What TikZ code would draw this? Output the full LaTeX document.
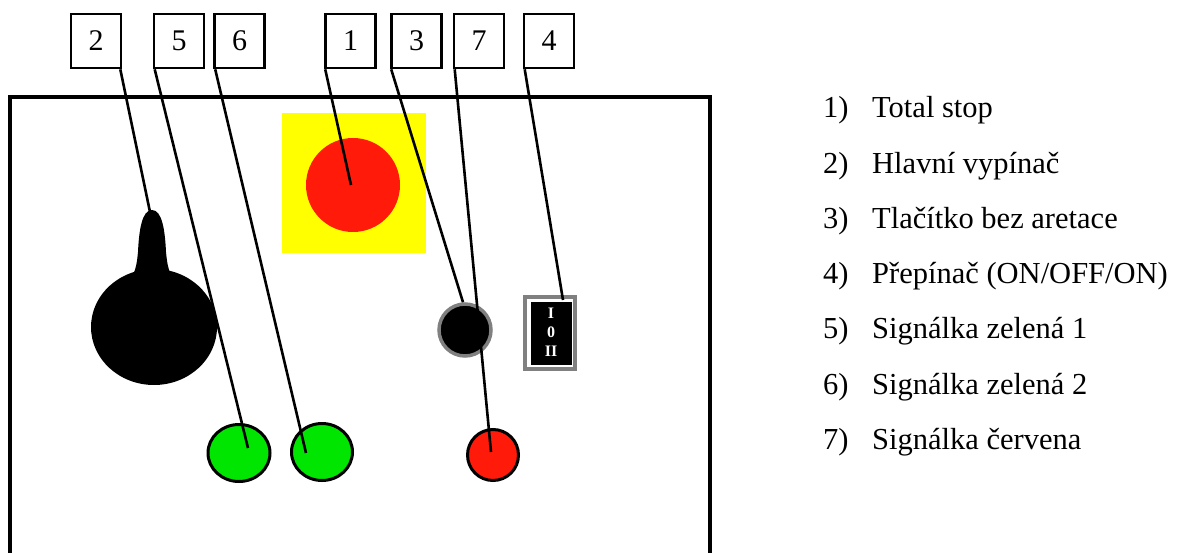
\documentclass[tikz,border=0pt]{standalone}
\usepackage{fontspec}
\setmainfont{Liberation Serif}
\usetikzlibrary{positioning,shapes.geometric}

\definecolor{signalgreen}{RGB}{0,230,0}
\definecolor{signalred}{RGB}{255,26,10}
\definecolor{stopyellow}{RGB}{255,255,0}
\definecolor{ringgray}{RGB}{128,128,128}

\begin{document}
\begin{tikzpicture}[
    x=1pt, y=-1pt,
    tag/.style={draw, line width=2.6pt, minimum width=50pt, minimum height=54pt, inner sep=0pt, font=\fontsize{30}{30}\selectfont},
    lamp/.style={draw, line width=3pt, ellipse, inner sep=0pt},
    leader/.style={line width=2.6pt},
    legend/.style={anchor=base west, inner sep=0pt, font=\fontsize{30.5}{34}\selectfont},
    switchmark/.style={text=white, inner sep=0pt, font=\fontsize{16}{16}\selectfont\bfseries}
]
\useasboundingbox (0,0) rectangle (1182,553);

% panel outline, open at the bottom
\draw[line width=4pt] (10,553) -- (10,97) -- (710,97) -- (710,553);

% total stop
\node[fill=stopyellow, minimum width=144pt, minimum height=140pt, inner sep=0pt] (plate) at (354,183) {};
\node[fill=signalred, circle, minimum size=94pt, inner sep=0pt] (stop) at (353,185) {};

% main switch knob
\fill (154,327) ellipse [x radius=63, y radius=58];
\fill (132,276) .. controls (136,270) and (137,262) .. (138,252)
      .. controls (139,230) and (142,210) .. (152,210)
      .. controls (162,210) and (165,230) .. (166,252)
      .. controls (167,262) and (168,270) .. (172,276) -- cycle;
\coordinate (knobtip) at (150,212);

% push button
\node[draw=ringgray, fill=black, line width=3.5pt, circle, minimum size=52pt, inner sep=0pt] (button) at (465,330) {};

% selector switch
\node[draw=ringgray, fill=white, line width=4pt, minimum width=50pt, minimum height=72pt, inner sep=0pt] (selector) at (550,333) {};
\node[fill=black, minimum width=41pt, minimum height=63pt, inner sep=0pt] (selbody) at (551,333.5) {};
\node[switchmark] (posI) at (551,313) {I};
\node[switchmark] (pos0) at (551,332) {0};
\node[switchmark] (posII) at (551,351) {II};

% signal lamps
\node[lamp, fill=signalgreen, minimum width=62pt, minimum height=57pt] (green1) at (239,453) {};
\node[lamp, fill=signalgreen, minimum width=61pt, minimum height=57pt] (green2) at (322,452) {};
\node[lamp, fill=signalred, minimum width=51pt, minimum height=51pt] (red) at (493,455) {};

% number tags
\node[tag] (tag2) at (96,41) {2};
\node[tag] (tag5) at (179,41) {5};
\node[tag] (tag6) at (239.5,41) {6};
\node[tag] (tag1) at (350.5,41) {1};
\node[tag] (tag3) at (416.5,41) {3};
\node[tag] (tag7) at (479,41) {7};
\node[tag] (tag4) at (549,41) {4};

% leader lines
\coordinate (green1pt) at (248,448);
\coordinate (green2pt) at (306,453);
\coordinate (redpt) at (491,452);
\coordinate (stoppt) at (351,185);
\coordinate (selpt) at (563,300);
\draw[leader] ([xshift=-2pt]tag2.south east) -- (knobtip);
\draw[leader] ([xshift=2pt]tag5.south west) -- (green1pt);
\draw[leader] ([xshift=2pt]tag6.south west) -- (green2pt);
\draw[leader] ([xshift=1pt]tag1.south west) -- (stoppt);
\draw[leader] ([xshift=1pt]tag3.south west) -- ([xshift=-2pt]button.north);
\draw[leader] ([xshift=2pt]tag7.south west) -- (redpt);
\draw[leader] ([xshift=2pt]tag4.south west) -- (selpt);

% legend
\node[legend] (num1) at (823,118) {1)};
\node[legend] (txt1) at (872,118) {Total stop};
\node[legend] (num2) at (823,173.2) {2)};
\node[legend] (txt2) at (872,173.2) {Hlavní vypínač};
\node[legend] (num3) at (823,228.4) {3)};
\node[legend] (txt3) at (872,228.4) {Tlačítko bez aretace};
\node[legend] (num4) at (823,283.6) {4)};
\node[legend] (txt4) at (872,283.6) {Přepínač (ON/OFF/ON)};
\node[legend] (num5) at (823,338.8) {5)};
\node[legend] (txt5) at (872,338.8) {Signálka zelená 1};
\node[legend] (num6) at (823,394) {6)};
\node[legend] (txt6) at (872,394) {Signálka zelená 2};
\node[legend] (num7) at (823,449.2) {7)};
\node[legend] (txt7) at (872,449.2) {Signálka červena};
\end{tikzpicture}
\end{document}
